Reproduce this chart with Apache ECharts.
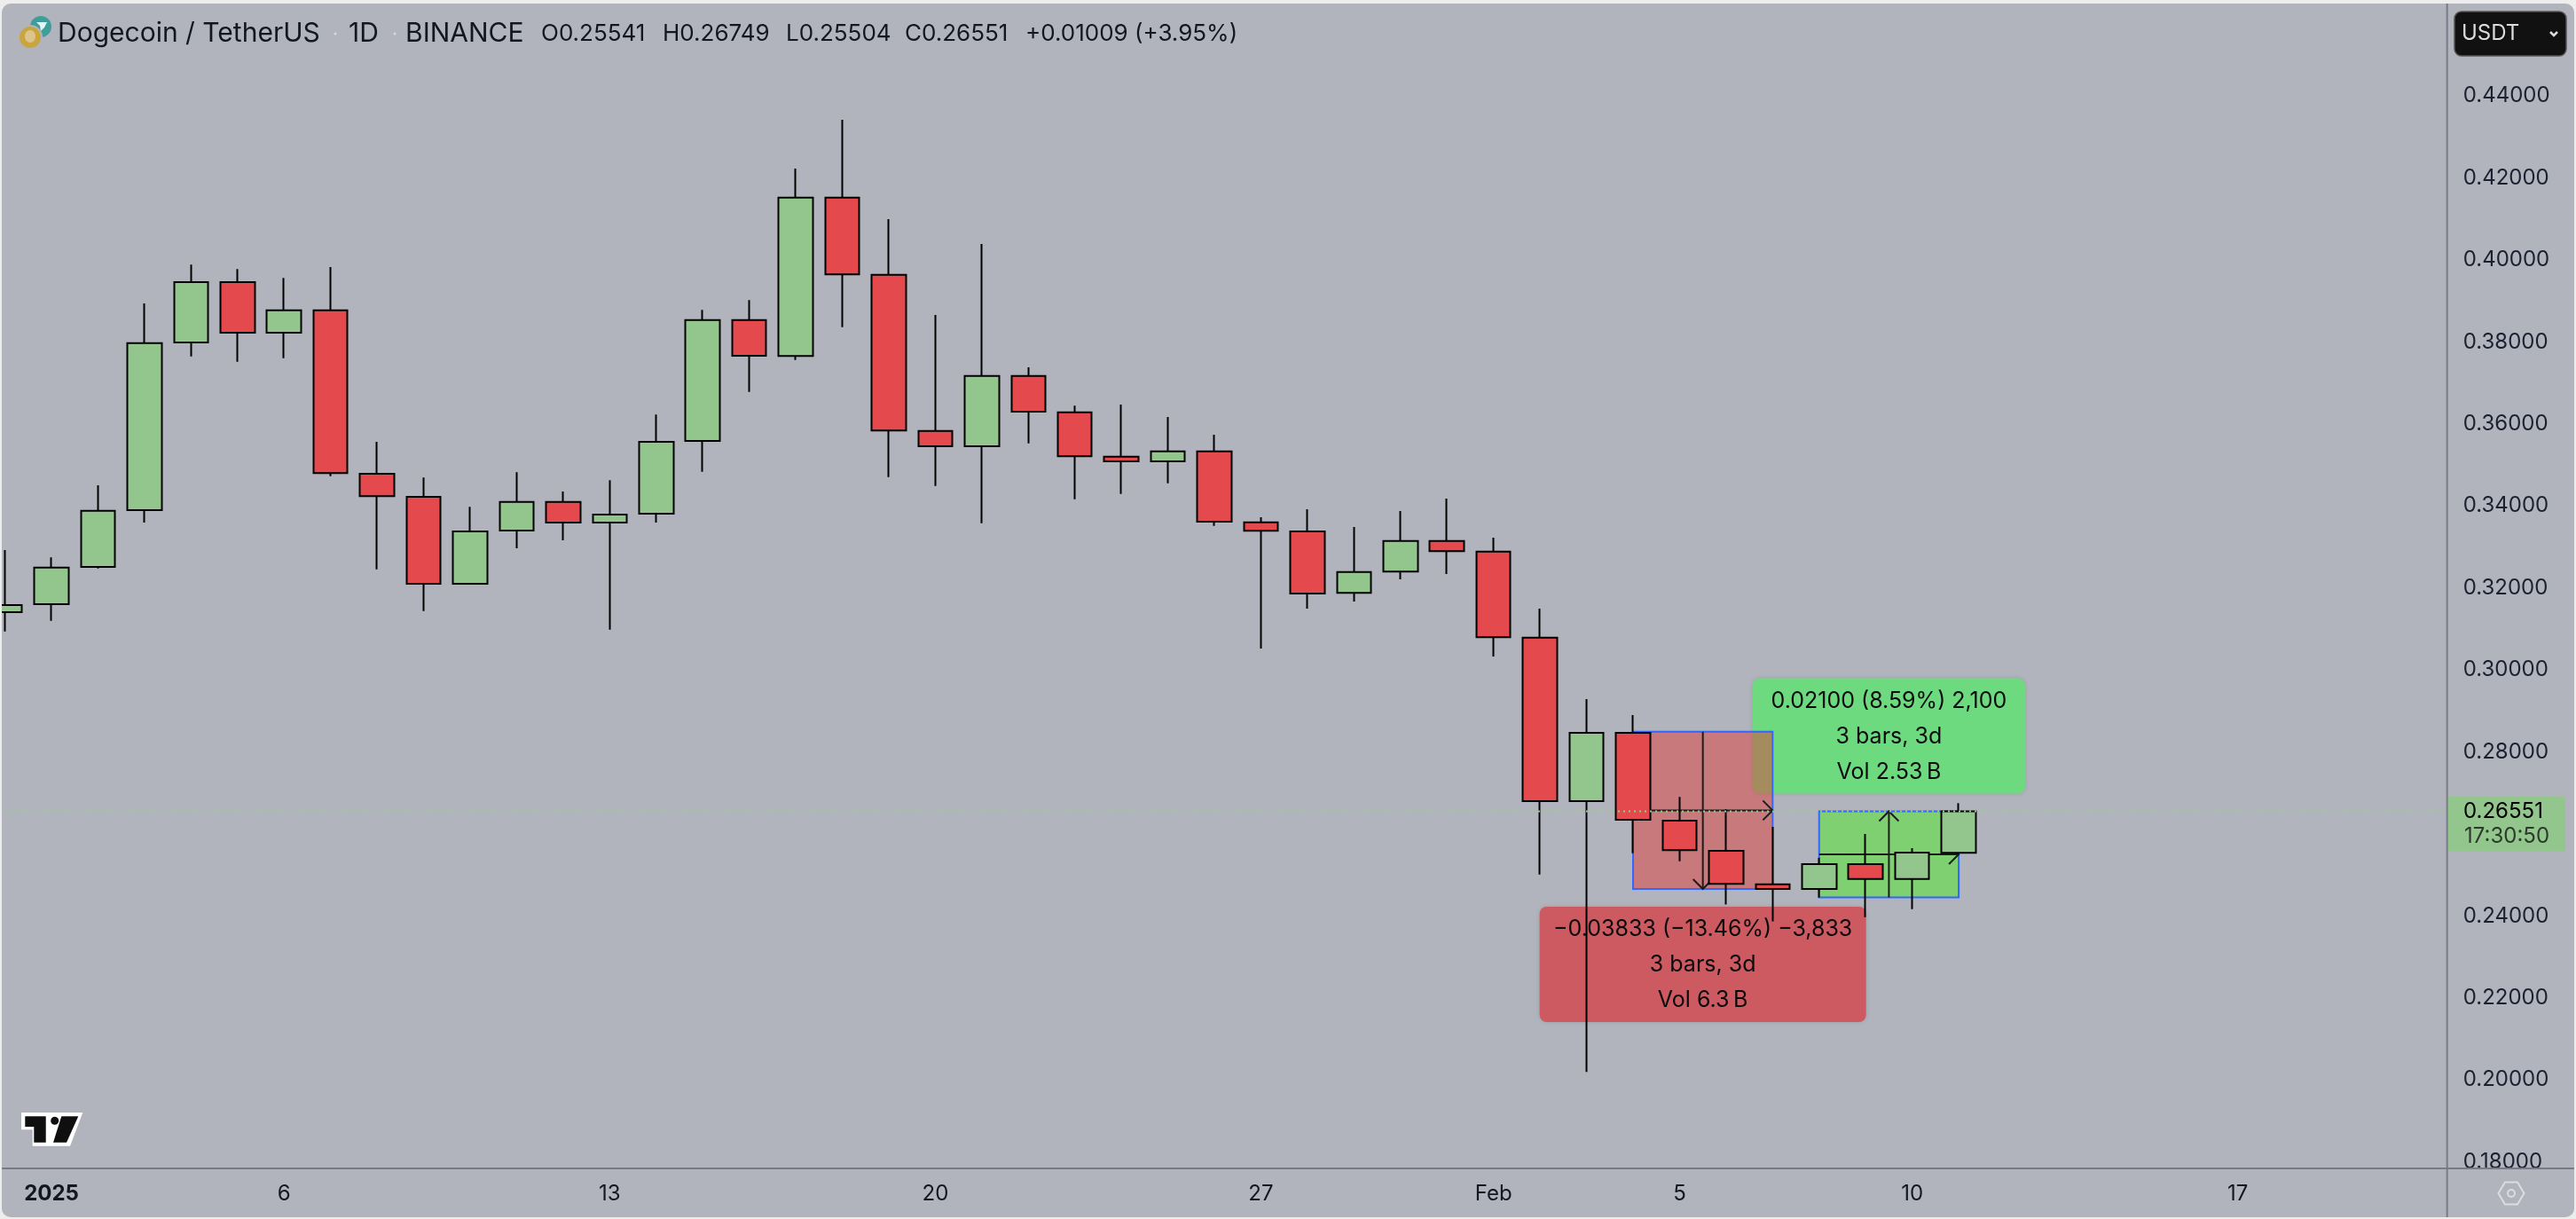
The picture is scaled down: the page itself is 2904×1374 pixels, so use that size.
<!DOCTYPE html>
<html lang="en">
<head>
    <meta charset="UTF-8">
    <title>Dogecoin / TetherUS</title>
    <script src="https://cdn.jsdelivr.net/npm/echarts@6/dist/echarts.min.js"></script>
    <style>
        *{
            margin: 0;
            padding: 0;
        }
        body{
            background: #ededed;
        }
        #box{
            width: 2904px;
            height: 1374px;
            clip-path: inset(4px 2px 2px 2px round 10px);
        }
    </style>
</head>
<body>
<div id="box"></div>
<script type="text/javascript">
    // daily candles, index 0 is Dec 31 and index 1 is Jan 1
    let dayIndex = [0,1,2,3,4,5,6,7,8,9,10,11,12,13,14,15,16,17,18,19,20,21,22,23,24,25,26,27,28,29,30,31,32,33,34,35,36,37,38,39,40,41,42];
    let opens  = [0.31408,0.31603,0.32512,0.33896,0.37985,0.39457,0.38223,0.38771,0.34784,0.34221,0.32100,0.33399,0.34098,0.33593,0.33810,0.35584,0.38534,0.37653,0.41519,0.39637,0.35829,0.35454,0.37170,0.36283,0.35201,0.35086,0.35331,0.33600,0.33377,0.31876,0.32396,0.33146,0.32886,0.30787,0.26800,0.28466,0.26324,0.25588,0.24773,0.24658,0.25264,0.24903,0.25541];
    let highs  = [0.32923,0.32742,0.34502,0.38937,0.39882,0.39774,0.39557,0.39824,0.35562,0.34690,0.33976,0.34819,0.34351,0.34625,0.36226,0.38779,0.39017,0.42226,0.43416,0.40993,0.38656,0.40387,0.37379,0.36442,0.36471,0.36168,0.35735,0.33723,0.33917,0.33485,0.33874,0.34177,0.33225,0.31494,0.29287,0.28898,0.26901,0.26598,0.26172,0.25422,0.25999,0.25653,0.26749];
    let lows   = [0.30939,0.31199,0.32476,0.33593,0.37646,0.37517,0.37603,0.34726,0.32454,0.31437,0.32090,0.32966,0.33161,0.30983,0.33593,0.34834,0.36781,0.37560,0.38360,0.34704,0.34487,0.33579,0.35526,0.34163,0.34293,0.34552,0.33514,0.30521,0.31494,0.31667,0.32208,0.32338,0.30326,0.25011,0.20194,0.25530,0.25336,0.24276,0.23865,0.24449,0.23973,0.24167,0.25504];
    let closes = [0.31581,0.32497,0.33882,0.37971,0.39457,0.38223,0.38771,0.34798,0.34235,0.32100,0.33377,0.34098,0.33593,0.33788,0.35562,0.38534,0.37661,0.41519,0.39644,0.35836,0.35454,0.37170,0.36298,0.35209,0.35086,0.35331,0.33615,0.33391,0.31862,0.32388,0.33146,0.32893,0.30795,0.26799,0.28466,0.26345,0.25603,0.24780,0.24658,0.25264,0.24903,0.25542,0.26551];

    let tickDays = [1,6,13,20,27,32,36,41,48];
    let tickLabels = ['2025','6','13','20','27','Feb','5','10','17'];
    let priceTicks = [0.44,0.42,0.40,0.38,0.36,0.34,0.32,0.30,0.28,0.24,0.22,0.20,0.18];

    // the two measure tools: [from day, to day], [start price, end price]
    let downDays = [35,38];
    let downPrices = [0.28491,0.24658];
    let downLabel = ['\u22120.03833 (\u221213.46%) \u22123,833','3 bars, 3d','Vol 6.3\u202fB'];
    let upDays = [39,42];
    let upPrices = [0.24451,0.26551];
    let upLabel = ['0.02100 (8.59%) 2,100','3 bars, 3d','Vol 2.53\u202fB'];

    let font = 'Inter, "Noto Sans", sans-serif';
    let textColor = '#131722';
    let green = '#93c68d';
    let red = '#e3494d';
    let panel = '#b1b4bc';
    let axisColor = '#787b86';

    let last = closes.length - 1;
    let change = closes[last] - closes[last - 1];
    let candles = dayIndex.map((d, i) => [d, opens[i], closes[i], lows[i], highs[i]]);

    function chevron(tipX, tipY, dx, dy){
        // open arrow head, two strokes back from the tip
        let backX = dx !== 0 ? tipX - dx * 11 : tipX - 11;
        let backY = dy !== 0 ? tipY - dy * 11 : tipY - 11;
        let backX2 = dx !== 0 ? backX : tipX + 11;
        let backY2 = dy !== 0 ? backY : tipY + 11;
        return {
            type: 'polyline',
            z2: 3,
            shape: {points: [[backX, backY], [tipX, tipY], [backX2, backY2]]},
            style: {stroke: '#1c1c1c', lineWidth: 2, fill: 'none'}
        };
    }

    function renderMeasure(params, api){
        let start = api.value(2), end = api.value(3);
        let rising = end > start;
        let a = api.coord([api.value(0), start]);
        let b = api.coord([api.value(1), end]);
        let left = a[0], right = b[0];
        let top = Math.min(a[1], b[1]), bottom = Math.max(a[1], b[1]);
        let midX = (left + right) / 2, midY = (top + bottom) / 2;
        let boxW = rising ? 307 : 368;
        let boxH = 130;
        let boxY = rising ? top - 20 - boxH : bottom + 20;
        let lines = rising ? upLabel : downLabel;
        let children = [
            {
                type: 'rect',
                z2: 0,
                shape: {x: midX - boxW / 2, y: boxY, width: boxW, height: boxH, r: 8},
                style: {fill: rising ? '#6dda80' : '#cc5a60', shadowBlur: 5, shadowColor: 'rgba(0,0,0,0.12)'}
            },
            {
                type: 'rect',
                z2: 1,
                shape: {x: left, y: top, width: right - left, height: bottom - top},
                style: {fill: rising ? 'rgba(78,235,35,0.5)' : 'rgba(222,61,59,0.5)', stroke: '#3366ff', lineWidth: 2}
            },
            {
                type: 'line',
                z2: 3,
                shape: {x1: midX, y1: a[1], x2: midX, y2: b[1]},
                style: {stroke: '#1c1c1c', lineWidth: 2}
            },
            {
                type: 'line',
                z2: 3,
                shape: {x1: left, y1: midY, x2: right, y2: midY},
                style: {stroke: '#1c1c1c', lineWidth: 2}
            },
            chevron(midX, b[1], 0, rising ? -1 : 1),
            chevron(right, midY, 1, 0)
        ];
        lines.forEach((line, i) => {
            children.push({
                type: 'text',
                z2: 4,
                style: {
                    text: line, x: midX, y: boxY + 26 + i * 40,
                    fill: '#0b0b0b', font: '25px ' + font,
                    textAlign: 'center', textVerticalAlign: 'middle'
                }
            });
        });
        return {type: 'group', children: children};
    }

    // dotted last price line and its tag on the scale
    function renderLastPrice(params, api){
        let y = api.coord([0, api.value(0)])[1];
        return {
            type: 'group',
            children: [
                {
                    type: 'line',
                    shape: {x1: params.coordSys.x, y1: y, x2: params.coordSys.x + params.coordSys.width, y2: y},
                    style: {stroke: '#8fd08a', lineWidth: 2, lineDash: [2, 4]}
                },
                {
                    type: 'rect',
                    shape: {x: 2760, y: y - 17, width: 132, height: 62, r: [0, 4, 4, 0]},
                    style: {fill: green}
                },
                {
                    type: 'text',
                    style: {text: api.value(0).toFixed(5), x: 2777, y: y, fill: '#000', font: '24px ' + font, textVerticalAlign: 'middle'}
                },
                {
                    type: 'text',
                    style: {text: '17:30:50', x: 2778, y: y + 28, fill: '#2c3a2c', font: '24px ' + font, textVerticalAlign: 'middle'}
                }
            ]
        };
    }

    function headerText(text, x, size, color){
        return {
            type: 'text',
            x: x,
            y: 38,
            style: {text: text, fill: color || textColor, font: size + 'px ' + font, textVerticalAlign: 'middle'}
        };
    }

    let myChart = echarts.init(document.getElementById('box'));
    let option = {
        backgroundColor: panel,
        animation: false,
        grid: {left: 0, right: 145.3, top: 4, bottom: 57},
        xAxis: {
            type: 'value',
            // first candle sits 5.6px in from the edge, 52.44px a day
            min: -0.1068,
            max: 52.5,
            axisLine: {show: false},
            axisTick: {show: false},
            splitLine: {show: false},
            axisLabel: {
                customValues: tickDays,
                margin: 17,
                color: textColor,
                fontFamily: font,
                fontSize: 24,
                formatter: function (value) {
                    let k = tickDays.indexOf(value);
                    if (k < 0) return '';
                    return k === 0 ? '{bold|' + tickLabels[k] + '}' : tickLabels[k];
                },
                rich: {
                    bold: {fontWeight: 'bold', fontFamily: font, fontSize: 24, color: textColor}
                }
            }
        },
        yAxis: {
            type: 'value',
            position: 'right',
            min: 0.17842,
            max: 0.4625,
            axisLine: {show: false},
            axisTick: {show: false},
            splitLine: {show: false},
            axisLabel: {
                customValues: priceTicks,
                margin: 18,
                color: '#1c2030',
                fontFamily: font,
                fontSize: 24,
                formatter: function (value) {
                    return value.toFixed(5);
                }
            }
        },
        series: [
            {
                type: 'custom',
                z: 1,
                clip: false,
                renderItem: renderMeasure,
                encode: {x: [0, 1], y: [2, 3]},
                data: [
                    [downDays[0], downDays[1], downPrices[0], downPrices[1]],
                    [upDays[0], upDays[1], upPrices[0], upPrices[1]]
                ]
            },
            {
                type: 'candlestick',
                z: 2,
                barWidth: 39,
                data: candles,
                itemStyle: {
                    color: green,
                    color0: red,
                    borderColor: '#000',
                    borderColor0: '#000',
                    borderWidth: 2
                }
            },
            {
                type: 'custom',
                z: 6,
                clip: false,
                renderItem: renderLastPrice,
                encode: {y: 0},
                data: [[closes[last]]]
            }
        ],
        graphic: {
            elements: [
                // covers the part of 0.18000 that runs under the scale line
                {type: 'rect', shape: {x: 2760, y: 1318, width: 144, height: 56}, style: {fill: panel}},
                {type: 'line', shape: {x1: 0, y1: 1317, x2: 2904, y2: 1317}, style: {stroke: axisColor, lineWidth: 2}},
                {type: 'line', shape: {x1: 2758.7, y1: 0, x2: 2758.7, y2: 1374}, style: {stroke: axisColor, lineWidth: 2}},

                // coin icons
                {type: 'circle', shape: {cx: 46, cy: 30, r: 12}, style: {fill: '#3f9e9a'}},
                {type: 'polygon', shape: {points: [[41, 25], [53, 25], [50, 31], [46, 35], [45, 29]]}, style: {fill: '#e8f3f3'}},
                {type: 'circle', shape: {cx: 34, cy: 42, r: 14}, style: {fill: panel}},
                {type: 'circle', shape: {cx: 34, cy: 42, r: 12}, style: {fill: '#c9a53e'}},
                {type: 'ellipse', shape: {cx: 34, cy: 41, rx: 6, ry: 7}, style: {fill: '#dcc48e'}},

                headerText('Dogecoin / TetherUS', 65, 30),
                headerText('1D', 393, 30),
                headerText('BINANCE', 457, 30),
                {type: 'circle', shape: {cx: 378, cy: 38, r: 1.5}, style: {fill: '#d8d9dc'}},
                {type: 'circle', shape: {cx: 445, cy: 38, r: 1.5}, style: {fill: '#d8d9dc'}},
                headerText('O' + opens[last].toFixed(5), 610, 26),
                headerText('H' + highs[last].toFixed(5), 747, 26),
                headerText('L' + lows[last].toFixed(5), 886, 26),
                headerText('C' + closes[last].toFixed(5), 1020, 26),
                headerText('+' + change.toFixed(5) + ' (+' + (change / closes[last - 1] * 100).toFixed(2) + '%)', 1156, 26),

                // currency button
                {type: 'rect', shape: {x: 2767, y: 13, width: 126, height: 50, r: 8}, style: {fill: '#111', stroke: '#555', lineWidth: 1.5}},
                {type: 'text', x: 2775, y: 38, style: {text: 'USDT', fill: '#dcdcdc', font: '24px ' + font, textVerticalAlign: 'middle'}},
                {type: 'polyline', shape: {points: [[2875, 36], [2879, 40], [2883, 36]]}, style: {stroke: '#dcdcdc', lineWidth: 2.5, fill: 'none'}},

                // logo
                {type: 'polygon', shape: {points: [[24, 1254], [93.3, 1254], [79, 1291.7], [36.7, 1291.7], [36.7, 1273.3], [24, 1273.3]]}, style: {fill: '#fff'}},
                {type: 'polygon', shape: {points: [[28.3, 1258.3], [51.7, 1258.3], [51.7, 1287.7], [38.3, 1287.7], [38.3, 1270], [28.3, 1270]]}, style: {fill: '#0f0f0f'}},
                {type: 'circle', shape: {cx: 61.7, cy: 1263.3, r: 4.5}, style: {fill: '#0f0f0f'}},
                {type: 'polygon', shape: {points: [[69.3, 1258.3], [88.3, 1258.3], [75, 1287.7], [60, 1287.7]]}, style: {fill: '#0f0f0f'}},

                // settings hexagon
                {type: 'polygon', shape: {points: [[2816.5, 1345], [2824, 1332.5], [2838, 1332.5], [2845.5, 1345], [2838, 1357.5], [2824, 1357.5]]}, style: {fill: 'none', stroke: '#dcdde0', lineWidth: 2}},
                {type: 'circle', shape: {cx: 2831, cy: 1345, r: 4}, style: {fill: 'none', stroke: '#dcdde0', lineWidth: 2}}
            ]
        }
    };
    option.graphic.elements.forEach(el => {
        el.z = 11;
    });
    myChart.setOption(option);
</script>
</body>
</html>
